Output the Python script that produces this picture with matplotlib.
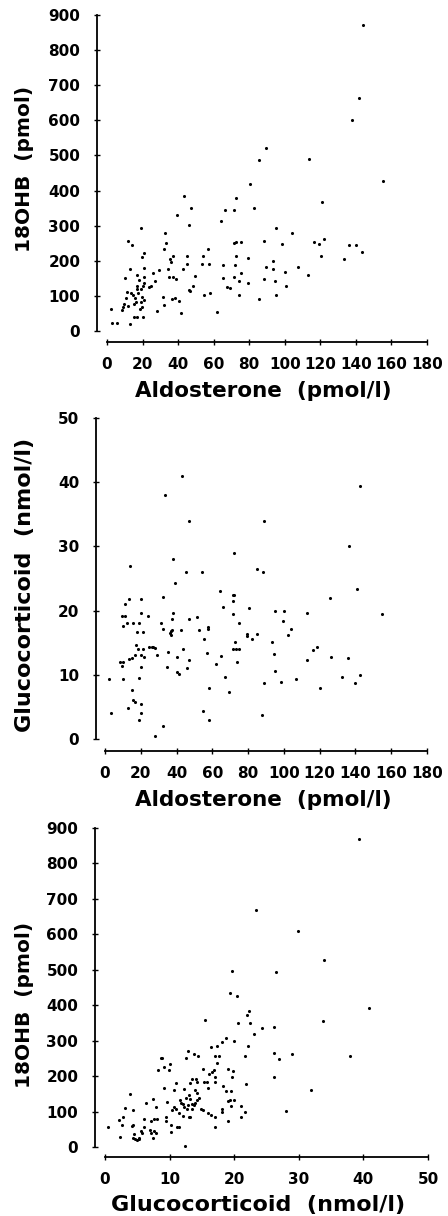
import matplotlib
matplotlib.use('Agg')
import matplotlib.pyplot as plt

plt.rcParams['font.family'] = 'DejaVu Sans'
plt.rcParams['font.weight'] = 'bold'

# panel 1: aldosterone vs 18OHB
aldo_1 = [143.8, 141.6, 137.6, 89.6, 85.7, 113.4, 80.4, 155.4, 43.5, 72.6,
          47.3, 82.7, 39.2, 66.6, 71.4, 120.8, 32.4, 64.3, 46.3, 18.9,
          104.3, 11.8, 14.1, 33.2, 71.4, 72.4, 75.2, 88.3, 95.1, 98.6,
          116.2, 119.4, 122.1, 136.3, 140.1, 143.4, 133.5, 120.4, 107.4, 113.0,
          100.1, 93.6, 93.2, 89.4, 88.3, 94.5, 100.5, 94.9, 85.3, 79.3,
          79.3, 75.2, 74.1, 71.4, 72.2, 72.7, 74.1, 67.3, 69.0, 65.2,
          65.2, 62.1, 57.0, 57.6, 53.2, 54.2, 58.1, 54.7, 49.3, 48.2,
          46.9, 46.3, 45.2, 45.2, 42.6, 41.4, 40.3, 38.4, 36.7, 37.1,
          35.4, 36.2, 34.4, 34.9, 36.9, 38.6, 31.9, 29.1, 26.1, 27.2,
          24.6, 23.8, 31.7, 32.1, 28.0, 20.8, 19.9, 20.8, 20.8, 20.8,
          20.1, 19.3, 19.7, 20.8, 18.9, 19.5, 18.6, 20.1, 17.1, 17.8,
          17.1, 16.7, 17.4, 15.6, 16.3, 15.2, 16.7, 15.2, 12.9, 13.7,
          14.4, 11.1, 10.0, 10.5, 9.4, 9.2, 8.4, 12.9, 5.8, 3.0,
          2.1, 11.6]
hb_1 = [872, 664, 601, 521, 488, 489, 420, 426, 384, 379,
        350, 351, 331, 345, 345, 366, 280, 313, 301, 292,
        280, 255, 244, 252, 252, 254, 254, 256, 293, 247,
        254, 249, 263, 245, 244, 226, 206, 213, 182, 160,
        167, 199, 178, 181, 148, 143, 128, 103, 90, 207,
        137, 164, 141, 153, 188, 214, 103, 124, 122, 152,
        188, 55, 234, 190, 191, 215, 107, 103, 156, 128,
        113, 117, 214, 190, 177, 52, 85, 95, 91, 214,
        205, 197, 178, 153, 153, 149, 233, 175, 164, 141,
        129, 124, 97, 73, 56, 222, 210, 179, 155, 136,
        128, 119, 98, 88, 83, 69, 63, 39, 160, 145,
        128, 119, 107, 93, 83, 77, 41, 39, 177, 107,
        103, 112, 150, 94, 77, 69, 60, 19, 23, 23,
        62, 72]

# panel 2: aldosterone vs glucocorticoid
aldo_2 = [43.2, 33.5, 142.5, 47.1, 89.1, 136.6, 14.0, 72.1, 38.2, 45.3,
          54.2, 85.2, 88.3, 39.2, 64.3, 140.7, 32.2, 13.2, 20.3, 11.4,
          71.4, 72.3, 125.8, 66.0, 71.8, 80.3, 71.4, 51.2, 46.8, 37.5,
          38.2, 24.0, 20.3, 9.5, 11.4, 10.2, 12.5, 15.5, 19.2, 18.1,
          21.4, 31.5, 32.2, 36.7, 37.5, 36.2, 37.0, 42.3, 52.7, 57.8,
          57.8, 55.3, 74.7, 72.7, 71.7, 73.2, 75.1, 79.4, 79.4, 82.4,
          85.2, 99.3, 95.2, 100.1, 102.3, 104.2, 112.7, 93.3, 94.3, 116.1,
          118.7, 112.7, 126.5, 135.7, 154.8, 132.7, 142.5, 139.7, 120.0, 106.9,
          98.2, 95.2, 88.9, 87.9, 73.8, 69.1, 67.3, 65.0, 62.0, 57.2,
          58.1, 58.3, 54.9, 43.5, 47.2, 46.0, 40.1, 40.5, 41.6, 34.5,
          35.1, 26.3, 27.0, 28.1, 24.8, 29.3, 32.2, 28.1, 21.4, 22.0,
          20.3, 20.3, 18.3, 17.3, 16.6, 13.6, 15.1, 8.4, 10.2, 9.3,
          10.2, 19.2, 15.1, 15.5, 17.0, 13.0, 20.3, 19.9, 19.2, 2.0,
          3.2]
gluc_2 = [41.0, 38.0, 39.4, 34.0, 34.0, 30.0, 27.0, 29.0, 28.0, 26.0,
          26.0, 26.5, 26.0, 24.3, 23.0, 23.4, 22.1, 21.8, 21.8, 21.0,
          22.5, 22.4, 22.0, 20.6, 21.5, 20.4, 19.4, 19.0, 18.7, 18.7,
          19.7, 19.2, 19.6, 19.1, 19.1, 17.6, 18.0, 18.0, 18.0, 16.6,
          16.7, 18.0, 17.2, 16.2, 17.0, 16.5, 16.8, 17.0, 17.0, 17.5,
          17.1, 15.6, 18.0, 15.1, 14.0, 14.0, 14.0, 16.3, 16.0, 15.6,
          16.4, 18.4, 19.9, 20.0, 16.2, 17.2, 19.6, 15.1, 13.3, 13.8,
          14.4, 12.3, 12.8, 12.6, 19.4, 9.7, 10.0, 8.8, 8.0, 9.4,
          8.9, 10.6, 8.7, 3.7, 12.0, 7.3, 9.6, 13.0, 11.7, 13.4,
          8.0, 3.0, 4.4, 14.0, 12.3, 11.0, 12.8, 10.4, 10.1, 11.2,
          13.6, 14.4, 14.3, 14.2, 14.4, 13.1, 2.0, 0.5, 14.0, 12.8,
          13.1, 11.2, 14.0, 14.6, 13.1, 12.4, 12.6, 12.0, 12.0, 11.4,
          9.4, 9.5, 7.7, 6.1, 5.8, 4.9, 5.4, 4.1, 2.9, 9.4,
          4.1]

# panel 3: glucocorticoid vs 18OHB
gluc_3 = [39.3, 23.4, 29.9, 33.9, 19.6, 26.5, 19.4, 20.4, 40.8, 33.8,
          15.5, 20.6, 22.3, 22.0, 22.5, 24.3, 26.1, 23.1, 18.7, 20.0,
          18.1, 17.3, 16.4, 22.1, 28.9, 26.1, 27.0, 37.9, 21.6, 17.1,
          17.6, 12.8, 14.4, 13.8, 12.5, 17.4, 8.7, 8.9, 10.1, 9.1,
          8.2, 9.9, 15.1, 16.1, 16.5, 16.8, 19.0, 19.8, 19.7, 26.1,
          21.8, 17.1, 17.1, 15.8, 15.4, 16.0, 13.4, 13.1, 11.0, 12.2,
          9.2, 10.7, 14.1, 14.3, 13.9, 14.2, 13.0, 14.6, 14.2, 14.0,
          13.7, 12.5, 13.2, 11.6, 11.7, 12.1, 12.3, 12.9, 13.4, 12.7,
          13.4, 10.7, 11.0, 10.4, 11.4, 12.0, 13.0, 13.2, 9.4, 9.5,
          10.2, 9.6, 11.2, 11.5, 10.2, 12.4, 14.8, 15.1, 16.0, 16.4,
          17.0, 17.1, 18.1, 18.1, 19.1, 19.5, 19.3, 19.0, 18.3, 18.8,
          19.5, 20.0, 21.1, 21.1, 21.7, 28.0, 31.9, 7.4, 7.9, 6.4,
          8.1, 7.6, 7.1, 7.6, 7.9, 6.9, 7.1, 7.4, 6.0, 6.0,
          5.6, 5.8, 5.2, 4.6, 4.9, 5.3, 4.3, 4.4, 4.4, 4.2,
          4.5, 3.8, 3.1, 2.8, 2.6, 2.1, 2.3, 0.5]
hb_3 = [870, 668, 608, 528, 496, 495, 435, 425, 391, 356,
        357, 350, 383, 373, 351, 335, 338, 319, 307, 299,
        295, 286, 281, 285, 262, 265, 247, 258, 258, 258,
        258, 271, 256, 263, 251, 238, 252, 252, 233, 227,
        218, 217, 219, 206, 212, 216, 220, 214, 197, 197,
        178, 197, 183, 184, 182, 166, 191, 180, 181, 165,
        167, 161, 192, 182, 161, 151, 147, 139, 133, 125,
        118, 138, 135, 134, 124, 121, 114, 119, 121, 106,
        108, 114, 108, 103, 95, 88, 86, 86, 84, 74,
        63, 127, 57, 57, 43, 3, 106, 104, 95, 91,
        86, 57, 106, 100, 130, 117, 132, 73, 172, 158,
        158, 132, 116, 86, 98, 101, 161, 135, 114, 125,
        78, 78, 74, 45, 39, 48, 40, 24, 78, 57,
        44, 39, 26, 22, 20, 22, 24, 103, 62, 59,
        37, 149, 109, 84, 62, 76, 27, 57]

W, H = 448, 1216
fig = plt.figure(figsize=(W / 100, H / 100), dpi=100)


def px_axes(x0, x1, y0, y1):
    # data area in pixel coords (left, right, bottom y, top y)
    return fig.add_axes([x0 / W, 1 - y0 / H, (x1 - x0) / W, (y0 - y1) / H])


def style(ax, xlim, ylim, xticks, yticks, loff, boff):
    ax.set_xlim(*xlim)
    ax.set_ylim(*ylim)
    ax.set_xticks(xticks)
    ax.set_yticks(yticks)
    for s in ['top', 'right']:
        ax.spines[s].set_visible(False)
    ax.spines['left'].set_position(('outward', loff * 0.72))
    ax.spines['bottom'].set_position(('outward', boff * 0.72))
    ax.spines['left'].set_bounds(*ylim)
    ax.spines['bottom'].set_bounds(*xlim)
    for s in ['left', 'bottom']:
        ax.spines[s].set_linewidth(1.3)
    ax.tick_params(direction='inout', length=4, width=1, labelsize=11)
    ax.tick_params(axis='y', pad=10)
    ax.tick_params(axis='x', pad=9)
    for lab in ax.get_xticklabels() + ax.get_yticklabels():
        lab.set_fontweight('bold')
    ax.patch.set_visible(False)


dot = dict(s=5, c='black', marker='o', linewidths=0)

ax1 = px_axes(107, 427, 331, 15)
ax1.scatter(aldo_1, hb_1, **dot)
style(ax1, (0, 180), (0, 900), range(0, 181, 20), range(0, 901, 100), 10, 11)

ax2 = px_axes(105, 427, 739, 418)
ax2.scatter(aldo_2, gluc_2, **dot)
style(ax2, (0, 180), (0, 50), range(0, 181, 20), range(0, 51, 10), 9, 12)

ax3 = px_axes(105, 428, 1147, 828)
ax3.scatter(gluc_3, hb_3, **dot)
style(ax3, (0, 50), (0, 900), range(0, 51, 10), range(0, 901, 100), 10, 10)

lab = dict(fontweight='bold', ha='center', va='center')
fig.text(263 / W, 1 - 391 / H, 'Aldosterone  (pmol/l)', fontsize=15.5, **lab)
fig.text(263 / W, 1 - 800 / H, 'Aldosterone  (pmol/l)', fontsize=15.5, **lab)
fig.text(258 / W, 1 - 1205 / H, 'Glucocorticoid  (nmol/l)', fontsize=16, **lab)
fig.text(25 / W, 1 - 169 / H, '18OHB  (pmol)', rotation=90, fontsize=14.5, **lab)
fig.text(25 / W, 1 - 585 / H, 'Glucocorticoid  (nmol/l)', rotation=90,
         fontsize=16, **lab)
fig.text(25 / W, 1 - 1005 / H, '18OHB  (pmol)', rotation=90, fontsize=14.5, **lab)

fig.savefig('out.png', dpi=100)
